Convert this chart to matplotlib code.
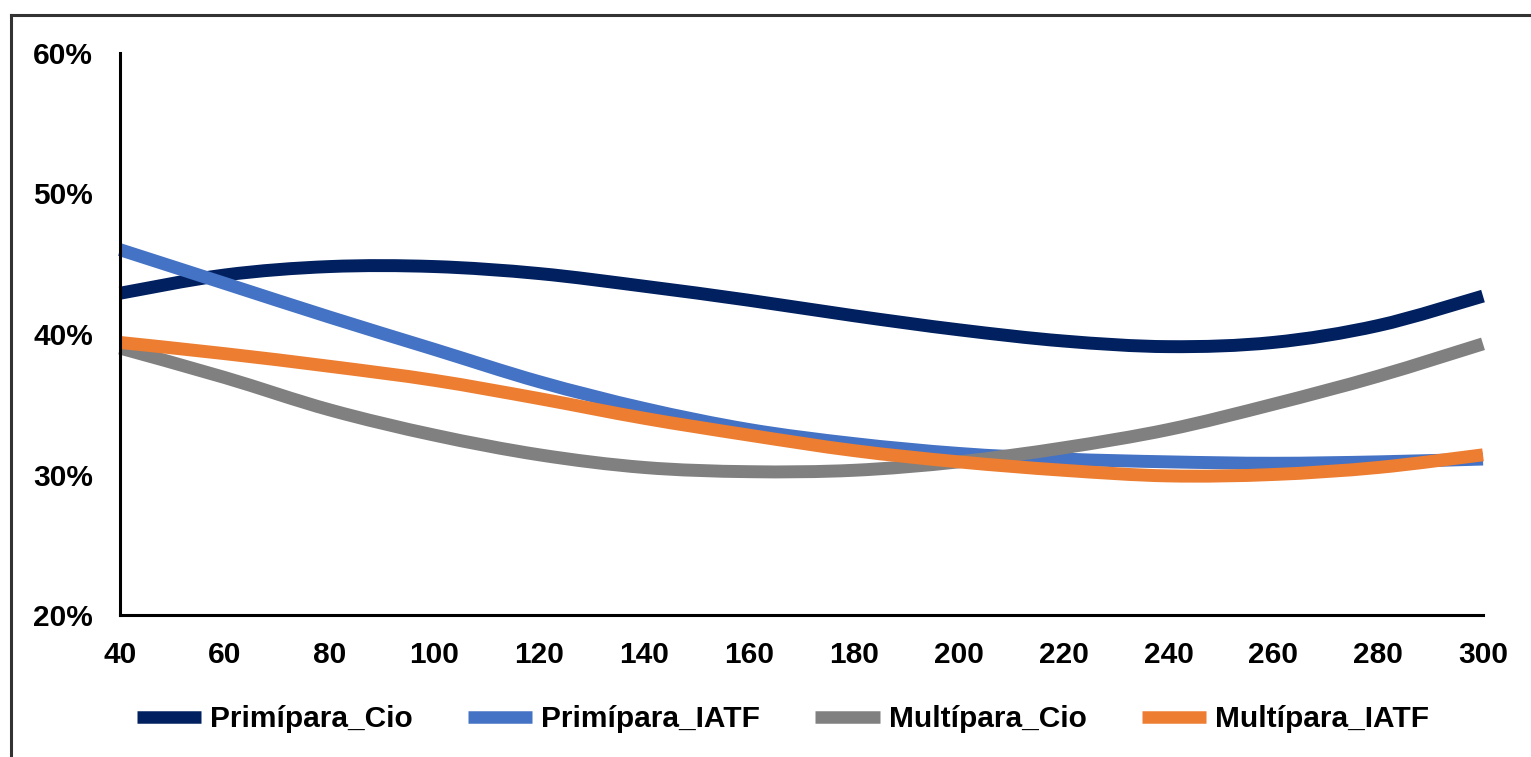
import matplotlib
matplotlib.use("Agg")
import matplotlib.pyplot as plt
from matplotlib.lines import Line2D
from matplotlib.path import Path
from matplotlib.patches import PathPatch

plt.rcParams['font.family'] = ['Liberation Sans', 'DejaVu Sans']

dias = [40, 60, 80, 100, 120, 140, 160, 180, 200, 220, 240, 260, 280, 300]
primipara_cio = [42.9, 44.2, 44.8, 44.8, 44.3, 43.4, 42.4, 41.3, 40.3, 39.5, 39.1, 39.4, 40.6, 42.7]
primipara_iatf = [46.0, 43.6, 41.2, 38.9, 36.6, 34.7, 33.2, 32.2, 31.5, 31.1, 30.9, 30.8, 30.9, 31.1]
multipara_cio = [39.0, 36.9, 34.6, 32.8, 31.4, 30.5, 30.2, 30.3, 30.9, 31.9, 33.2, 35.0, 37.0, 39.3]
multipara_iatf = [39.4, 38.6, 37.7, 36.7, 35.4, 34.0, 32.8, 31.7, 30.9, 30.3, 29.9, 30.0, 30.5, 31.4]

series_names = ['Primípara_Cio', 'Primípara_IATF', 'Multípara_Cio', 'Multípara_IATF']
colors = ['#002060', '#4472C4', '#808080', '#ED7D31']
x_ticks = [40, 60, 80, 100, 120, 140, 160, 180, 200, 220, 240, 260, 280, 300]
y_ticks = [20, 30, 40, 50, 60]


def smooth_path(xs, ys):
    """Smoothed line (like a spreadsheet 'smoothed line') via cubic Bezier segments."""
    pts = list(zip(xs, ys))
    n = len(pts)
    verts = [pts[0]]
    codes = [Path.MOVETO]
    for i in range(n - 1):
        p0 = pts[i - 1] if i > 0 else pts[i]
        p1 = pts[i]
        p2 = pts[i + 1]
        p3 = pts[i + 2] if i + 2 < n else pts[i + 1]
        c1 = (p1[0] + (p2[0] - p0[0]) / 6.0, p1[1] + (p2[1] - p0[1]) / 6.0)
        c2 = (p2[0] - (p3[0] - p1[0]) / 6.0, p2[1] - (p3[1] - p1[1]) / 6.0)
        verts += [c1, c2, p2]
        codes += [Path.CURVE4, Path.CURVE4, Path.CURVE4]
    return Path(verts, codes)


fig = plt.figure(figsize=(15.31, 7.57), dpi=100)
ax = fig.add_axes([120/1531, 1-615/757, (1483-120)/1531, (615-53)/757])

for vals, name, c in zip([primipara_cio, primipara_iatf, multipara_cio, multipara_iatf], series_names, colors):
    patch = PathPatch(smooth_path(dias, vals), fill=False, edgecolor=c, lw=9.3,
                      capstyle='butt', joinstyle='round', clip_on=False)
    ax.add_patch(patch)

ax.set_xlim(40, 300)
ax.set_ylim(20, 60)
ax.set_xticks(x_ticks)
ax.set_yticks(y_ticks)
ax.set_xticklabels([str(v) for v in x_ticks], fontsize=21.5, fontweight='bold')
ax.set_yticklabels([f'{v}%' for v in y_ticks], fontsize=21.5, fontweight='bold')
ax.tick_params(axis='both', length=0)
ax.tick_params(axis='y', pad=19.5)
ax.tick_params(axis='x', pad=19)
for s in ['top', 'right']:
    ax.spines[s].set_visible(False)
for s in ['left', 'bottom']:
    ax.spines[s].set_linewidth(2.2)
    ax.spines[s].set_color('black')

handles = [Line2D([0], [0], color=c, lw=9, solid_capstyle='butt') for c in colors]
fig.legend(handles, series_names, loc='center', bbox_to_anchor=(783/1531, 1-719/757), ncol=4,
           frameon=False, prop={'size': 21.5, 'weight': 'bold'}, handlelength=2.15,
           columnspacing=1.85, handletextpad=0.3, borderpad=0, borderaxespad=0)

# outer frame lines (top and left)
fig.add_artist(Line2D([11/1531, 1], [1-14.5/757, 1-14.5/757], color='#333333', lw=2.2, transform=fig.transFigure))
fig.add_artist(Line2D([11/1531, 11/1531], [0, 1-14.5/757], color='#333333', lw=2.2, transform=fig.transFigure))

fig.savefig('out.png', dpi=100)
